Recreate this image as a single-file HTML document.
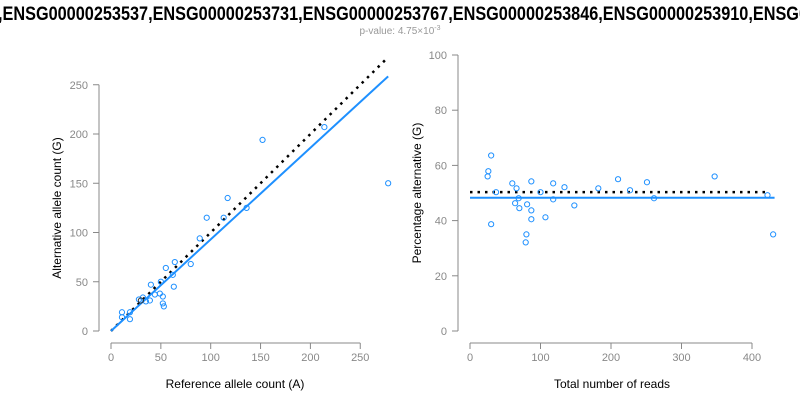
<!DOCTYPE html>
<html><head><meta charset="utf-8"><style>
body{margin:0;background:#fff;}
svg{display:block;font-family:"Liberation Sans",Arial,sans-serif;}
</style></head><body>
<svg id="chart" width="800" height="400" viewBox="0 0 800 400">
<text x="-2" y="20" font-size="19" font-weight="bold" textLength="810" lengthAdjust="spacingAndGlyphs">,ENSG00000253537,ENSG00000253731,ENSG00000253767,ENSG00000253846,ENSG00000253910,ENSG0</text>
<text x="400" y="34" font-size="10" fill="#999" text-anchor="middle">p-value: 4.75×10<tspan dy="-4" font-size="7">-3</tspan></text>
<g id="left"></g>
<g id="right"></g>
</svg>
<script>
const leftRef=[11,11,19,19,28,32,35,39,40,44,49,50,52,52,53,55,62,63,64,80,89,96,113,117,136,152,214,278,30];
const leftAlt=[19,14,19,12,32,34,30,31,47,37,38,50,35,28,25,64,57,45,70,68,94,115,115,135,125,194,207,150,31];
const leftTicks=[0,50,100,150,200,250];
const leftFitSlope=0.93;
const rightTotal=[30,26,25,30,37,60,66,69,64,70,81,87,87,87,80,79,100,107,118,118,134,148,182,210,227,251,261,347,422,430];
const rightPct=[63.6,57.9,56,38.7,50.3,53.5,51.7,48.1,46.3,44.5,45.9,54.2,43.7,40.5,35,32.1,50.3,41.2,53.5,47.7,52.1,45.5,51.7,55,51,53.9,48.1,56,49.2,35];
const rightXTicks=[0,100,200,300,400];
const rightYTicks=[0,20,40,60,80,100];
const rightExpected=50.3, rightFit=48.3;

const NS="http://www.w3.org/2000/svg";
function mk(parent,tag,attrs){const e=document.createElementNS(NS,tag);for(const k in attrs)e.setAttribute(k,attrs[k]);parent.appendChild(e);return e;}
const AX="#888";

// left
const L=document.getElementById('left');
const lx=v=>111+v*0.997, ly=v=>331-v*0.985;
let e=mk(L,'line',{x1:lx(0),x2:lx(250),y1:343,y2:343,stroke:AX});

e=mk(L,'line',{x1:99,x2:99,y1:ly(0),y2:ly(250),stroke:AX});

leftTicks.forEach(t=>{
 mk(L,'line',{x1:lx(t),x2:lx(t),y1:343,y2:349,stroke:AX});
 let tx=mk(L,'text',{x:lx(t),y:361,'font-size':11,fill:AX,'text-anchor':'middle'});tx.textContent=t;
 
 mk(L,'line',{x1:93,x2:99,y1:ly(t),y2:ly(t),stroke:AX});
 let ty=mk(L,'text',{x:88,y:ly(t)+4,'font-size':11,fill:AX,'text-anchor':'end'});ty.textContent=t;
 
});
e=mk(L,'line',{x1:lx(0),y1:ly(0),x2:lx(278),y2:ly(278),stroke:'#000','stroke-width':2.5,'stroke-dasharray':'2.5,5'});

e=mk(L,'line',{x1:lx(0),y1:ly(0),x2:lx(278),y2:ly(278*leftFitSlope),stroke:'#1e90ff','stroke-width':2});

leftRef.forEach((r,i)=>{const c=mk(L,'circle',{cx:lx(r),cy:ly(leftAlt[i]),r:2.6,fill:'none',stroke:i==leftRef.length-1?'#333':'#1e90ff','stroke-width':1});
 });
e=mk(L,'text',{x:235,y:388,'font-size':12,'text-anchor':'middle'});e.textContent='Reference allele count (A)';

e=mk(L,'text',{x:0,y:0,'font-size':12,'text-anchor':'middle',transform:'translate(61,208) rotate(-90)'});e.textContent='Alternative allele count (G)';


// right
const R=document.getElementById('right');
const rx=v=>470+v*0.705, ry=v=>331-v*2.76;
e=mk(R,'line',{x1:rx(0),x2:rx(400),y1:343,y2:343,stroke:AX});

e=mk(R,'line',{x1:458,x2:458,y1:ry(0),y2:ry(100),stroke:AX});

rightXTicks.forEach(t=>{
 mk(R,'line',{x1:rx(t),x2:rx(t),y1:343,y2:349,stroke:AX});
 let tx=mk(R,'text',{x:rx(t),y:361,'font-size':11,fill:AX,'text-anchor':'middle'});tx.textContent=t;
 
});
rightYTicks.forEach(t=>{
 mk(R,'line',{x1:452,x2:458,y1:ry(t),y2:ry(t),stroke:AX});
 let ty=mk(R,'text',{x:447,y:ry(t)+4,'font-size':11,fill:AX,'text-anchor':'end'});ty.textContent=t;
 
});
e=mk(R,'line',{x1:rx(0),y1:ry(rightExpected),x2:rx(420),y2:ry(rightExpected),stroke:'#000','stroke-width':2.5,'stroke-dasharray':'2.5,5'});

e=mk(R,'line',{x1:rx(0),y1:ry(rightFit),x2:rx(432),y2:ry(rightFit),stroke:'#1e90ff','stroke-width':2});

rightTotal.forEach((t,i)=>{const c=mk(R,'circle',{cx:rx(t),cy:ry(rightPct[i]),r:2.6,fill:'none',stroke:'#1e90ff','stroke-width':1});
 });
e=mk(R,'text',{x:612,y:388,'font-size':12,'text-anchor':'middle'});e.textContent='Total number of reads';

e=mk(R,'text',{x:0,y:0,'font-size':12,'text-anchor':'middle',transform:'translate(421,193) rotate(-90)'});e.textContent='Percentage alternative (G)';

</script>
</body></html>
